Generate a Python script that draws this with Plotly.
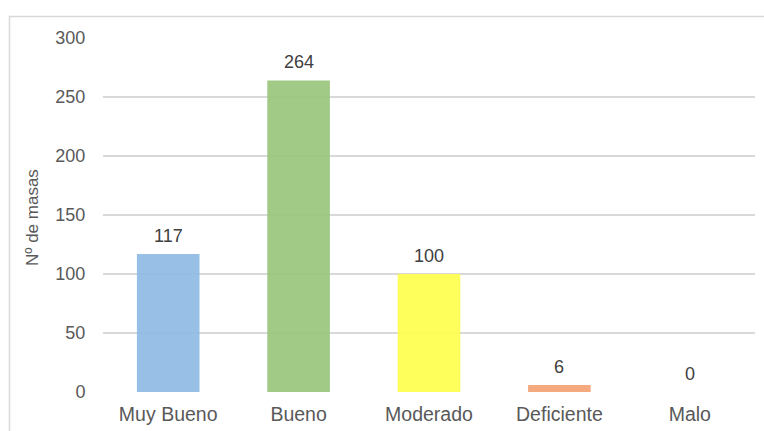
import plotly.graph_objects as go

# Estado de las masas de agua
categorias = ["Muy Bueno", "Bueno", "Moderado", "Deficiente", "Malo"]
n_masas = [117, 264, 100, 6, 0]
colores = ["#8FBAE3", "#98C57C", "#FFFF4E", "#F3A274", "#BFBFBF"]

y_ticks = [0, 50, 100, 150, 200, 250, 300]

texto = "#595959"
fuente = "Liberation Sans, Arial, sans-serif"

fig = go.Figure(
    go.Bar(
        x=categorias,
        y=n_masas,
        marker=dict(color=colores, opacity=0.92, line=dict(width=0)),
        hoverinfo="x+y",
    )
)

# Etiquetas de valor sobre cada barra
for cat, val in zip(categorias, n_masas):
    fig.add_annotation(
        x=cat, y=val, text=str(val), showarrow=False,
        yanchor="bottom", yshift=6,
        font=dict(family=fuente, size=18, color="#404040"),
    )

# Título del eje Y
fig.add_annotation(
    x=-0.109, y=0.494, xref="paper", yref="paper",
    text="Nº de masas", textangle=-90, showarrow=False,
    xanchor="center", yanchor="middle",
    font=dict(family=fuente, size=17, color=texto),
)

# Marco exterior del gráfico
fig.add_shape(
    type="rect", xref="paper", yref="paper",
    x0=-0.1434, y0=-0.3, x1=1.2, y1=1.0607,
    line=dict(color="#D9D9D9", width=1.5),
    fillcolor="rgba(0,0,0,0)", layer="below",
)

fig.update_layout(
    width=764, height=431,
    margin=dict(l=103, r=9, t=38, b=39),
    paper_bgcolor="white", plot_bgcolor="white",
    bargap=0.52,
    showlegend=False,
    font=dict(family=fuente, size=18, color=texto),
    xaxis=dict(
        automargin=False,
        showline=False, showgrid=False, zeroline=False,
        ticks="outside", ticklen=5, tickcolor="rgba(0,0,0,0)",
        tickfont=dict(family=fuente, size=19.5, color=texto),
    ),
    yaxis=dict(
        automargin=False,
        range=[0, 300], tickvals=y_ticks, ticktext=[str(v) for v in y_ticks],
        showline=False, zeroline=False,
        showgrid=True, gridcolor="#D9D9D9", gridwidth=1.5,
        ticks="outside", ticklen=13, tickcolor="rgba(0,0,0,0)",
        tickfont=dict(family=fuente, size=18, color=texto),
    ),
)

fig.write_html("out.html")
